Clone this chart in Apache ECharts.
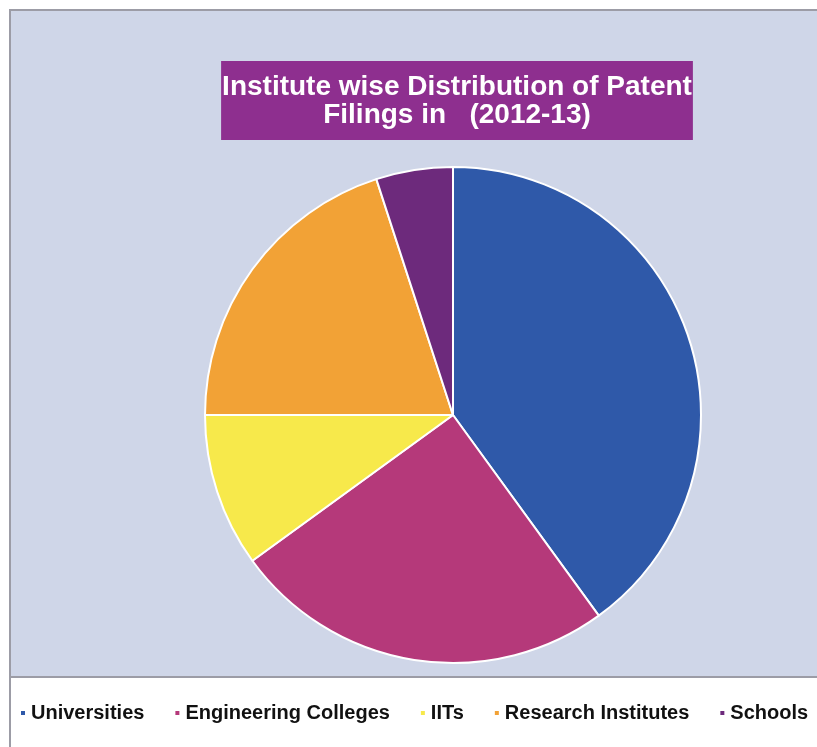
<!DOCTYPE html>
<html>
<head>
<meta charset="utf-8">
<script src="https://cdn.jsdelivr.net/npm/echarts@6/dist/echarts.min.js"></script>
<style>html,body{margin:0;padding:0;background:#fff;}#c{width:817px;height:747px;}</style>
</head>
<body>
<div id="c"></div>
<script>
const categories = ["Universities", "Engineering Colleges", "IITs", "Research Institutes", "Schools"];
const values = [40, 25, 10, 20, 5];
const colors = ["#2F59A9", "#B5397A", "#F7E94B", "#F2A236", "#6D2A7C"];
const titleText = "Institute wise Distribution of Patent\nFilings in   (2012-13)";

const chart = echarts.init(document.getElementById('c'), null, {renderer: 'canvas'});
chart.setOption({
  backgroundColor: '#ffffff',
  animation: false,
  color: colors,
  graphic: [
    {type: 'rect', z: -10, silent: true, shape: {x: 10, y: 10, width: 830, height: 760}, style: {fill: '#ffffff', stroke: '#9C9CA6', lineWidth: 2}},
    {type: 'rect', z: -9, silent: true, shape: {x: 10, y: 10, width: 830, height: 667}, style: {fill: '#CFD6E8', stroke: '#9C9CA6', lineWidth: 2}}
  ],
  title: {
    text: titleText,
    left: 456,
    top: 61,
    textAlign: 'center',
    backgroundColor: '#8E2F8F',
    padding: [12, 1, 11, 1],
    textStyle: {
      color: '#ffffff',
      fontFamily: 'Liberation Sans, Arial, sans-serif',
      fontWeight: 'bold',
      fontSize: 28,
      lineHeight: 28,
      align: 'center'
    }
  },
  legend: {
    data: categories,
    top: 698,
    left: 14,
    width: 810,
    padding: 5,
    icon: 'rect',
    itemWidth: 6,
    itemHeight: 6,
    itemGap: 29,
    textStyle: {
      color: '#111111',
      fontFamily: 'Liberation Sans, Arial, sans-serif',
      fontWeight: 'bold',
      fontSize: 20
    }
  },
  series: [{
    type: 'pie',
    center: [453, 415],
    radius: [0, 248],
    startAngle: 90,
    clockwise: true,
    label: {show: false},
    labelLine: {show: false},
    itemStyle: {borderColor: '#ffffff', borderWidth: 2},
    emphasis: {disabled: true},
    data: categories.map((c, i) => ({name: c, value: values[i]}))
  }]
});
</script>
</body>
</html>
